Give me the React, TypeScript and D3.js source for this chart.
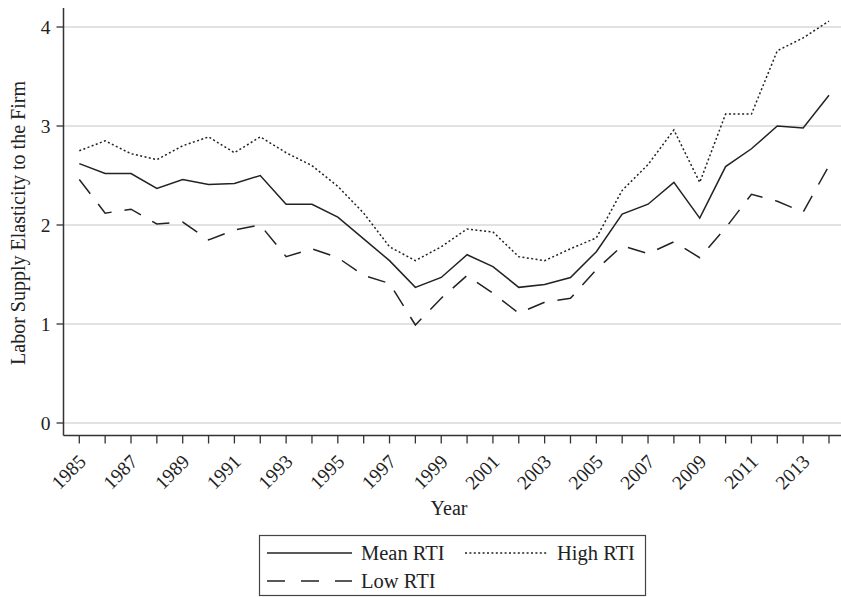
import React from "react";
import * as d3 from "d3";

const years = d3.range(1985, 2015);
const meanRTI = [2.62, 2.52, 2.52, 2.37, 2.46, 2.41, 2.42, 2.5, 2.21, 2.21, 2.08, 1.86, 1.64, 1.37, 1.47, 1.7, 1.58, 1.37, 1.4, 1.47, 1.73, 2.11, 2.21, 2.43, 2.07, 2.59, 2.77, 3.0, 2.98, 3.31];
const highRTI = [2.75, 2.85, 2.72, 2.66, 2.8, 2.89, 2.73, 2.89, 2.73, 2.6, 2.39, 2.12, 1.78, 1.64, 1.78, 1.96, 1.93, 1.68, 1.64, 1.76, 1.87, 2.35, 2.61, 2.96, 2.43, 3.12, 3.12, 3.76, 3.89, 4.06];
const lowRTI = [2.46, 2.12, 2.16, 2.01, 2.03, 1.85, 1.95, 2.0, 1.68, 1.76, 1.67, 1.49, 1.41, 0.99, 1.26, 1.49, 1.31, 1.11, 1.22, 1.26, 1.55, 1.79, 1.71, 1.83, 1.67, 1.97, 2.31, 2.24, 2.13, 2.6];
const yTicks = [0, 1, 2, 3, 4];
const labelYears = years.filter((y) => y % 2 === 1);

const series = [
  { name: "Mean RTI", values: meanRTI, dash: "none" },
  { name: "High RTI", values: highRTI, dash: "2,2.4" },
  { name: "Low RTI", values: lowRTI, dash: "18,13" },
];

const FONT = "'Liberation Serif', 'Times New Roman', serif";

export default function App() {
  const W = 841;
  const H = 597;
  const x = d3.scaleLinear().domain([1985, 2014]).range([79.3, 829]);
  const y = d3.scaleLinear().domain([0, 4]).range([423, 27]);
  const axisX = 63.5;
  const axisY = 435.5;
  const plotRight = 841;

  const line = (vals: number[]) =>
    d3
      .line<number>()
      .x((_, i) => x(years[i]))
      .y((d) => y(d))(vals) as string;

  const lineColor = "#222";

  return (
    <svg
      width={W}
      height={H}
      style={{ position: "absolute", left: 0, top: 0, display: "block", background: "#fff" }}
      fontFamily={FONT}
    >
      <rect x={0} y={0} width={W} height={H} fill="#fff" />
      {yTicks.map((t) => (
        <line key={"g" + t} x1={axisX} x2={plotRight} y1={y(t)} y2={y(t)} stroke="#d9d9d9" strokeWidth={1.5} />
      ))}
      {series.map((s) => (
        <path
          key={s.name}
          d={line(s.values)}
          fill="none"
          stroke={lineColor}
          strokeWidth={1.5}
          strokeDasharray={s.dash}
          strokeLinejoin="miter"
        />
      ))}
      <line x1={axisX} x2={axisX} y1={8} y2={axisY} stroke="#333" strokeWidth={1.5} />
      {yTicks.map((t) => (
        <g key={"yt" + t}>
          <line x1={axisX - 7} x2={axisX} y1={y(t)} y2={y(t)} stroke="#333" strokeWidth={1.3} />
          <text x={axisX - 13} y={y(t)} dy="0.35em" textAnchor="end" fontSize={19.5} fill="#222">
            {t}
          </text>
        </g>
      ))}
      <line x1={axisX} x2={plotRight} y1={axisY} y2={axisY} stroke="#333" strokeWidth={1.5} />
      {years.map((yr) => (
        <line key={"xt" + yr} x1={x(yr)} x2={x(yr)} y1={axisY} y2={axisY + 8} stroke="#333" strokeWidth={1.3} />
      ))}
      {labelYears.map((yr) => (
        <text
          key={"xl" + yr}
          transform={`translate(${x(yr) + 3},${458}) rotate(-45)`}
          dy="0.35em"
          textAnchor="end"
          fontSize={19.5}
          fill="#222"
        >
          {yr}
        </text>
      ))}
      <text x={449} y={515} textAnchor="middle" fontSize={20} fill="#222">
        Year
      </text>
      <text transform={`translate(25,223) rotate(-90)`} textAnchor="middle" fontSize={20} fill="#222">
        Labor Supply Elasticity to the Firm
      </text>
      <rect x={259.5} y={535.5} width={386} height={60} fill="#fff" stroke="#444" strokeWidth={1.2} />
      <line x1={267} x2={352} y1={553} y2={553} stroke={lineColor} strokeWidth={1.5} />
      <text x={361} y={553} dy="0.35em" fontSize={20.5} fill="#222">
        Mean RTI
      </text>
      <line x1={465} x2={547} y1={553} y2={553} stroke={lineColor} strokeWidth={1.5} strokeDasharray="2,2.4" />
      <text x={557} y={553} dy="0.35em" fontSize={20.5} fill="#222">
        High RTI
      </text>
      <line x1={267} x2={352} y1={581} y2={581} stroke={lineColor} strokeWidth={1.5} strokeDasharray="18,16" />
      <text x={361} y={581} dy="0.35em" fontSize={20.5} fill="#222">
        Low RTI
      </text>
    </svg>
  );
}
